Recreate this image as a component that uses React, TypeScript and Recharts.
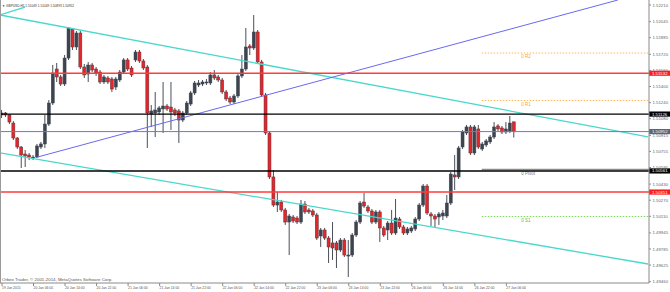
import React from 'react';
import { ComposedChart, Bar, XAxis, YAxis, ReferenceLine } from 'recharts';

// GBPUSD H1, one bar per hour from 19 Jan 22:00
const opens = [
  1.51117, 1.51137, 1.51117, 1.51037, 1.50888, 1.50799, 1.50729, 1.50719, 1.50690, 1.50699,
  1.50799, 1.50829, 1.51027, 1.51236, 1.51574, 1.51495, 1.51425, 1.51683, 1.51972, 1.51793,
  1.51932, 1.51594, 1.51524, 1.51614, 1.51574, 1.51544, 1.51445, 1.51485, 1.51475, 1.51395,
  1.51465, 1.51544, 1.51664, 1.51584, 1.51664, 1.51743, 1.51654, 1.51594, 1.51127, 1.51137,
  1.51147, 1.51177, 1.51206, 1.51196, 1.51167, 1.51157, 1.51067, 1.51137, 1.51226, 1.51336,
  1.51415, 1.51425, 1.51435, 1.51435, 1.51515, 1.51495, 1.51465, 1.51346, 1.51286, 1.51246,
  1.51306, 1.51505, 1.51574, 1.51803, 1.51783, 1.51942, 1.51644, 1.51316, 1.50938, 1.50501,
  1.50222, 1.50252, 1.50173, 1.50053, 1.50103, 1.50093, 1.50053, 1.50232, 1.50173, 1.50163,
  1.50123, 1.49914, 1.49974, 1.49894, 1.49845, 1.49845, 1.49775, 1.49874, 1.49715, 1.49725,
  1.49924, 1.50053, 1.50252, 1.50202, 1.50163, 1.50053, 1.50153, 1.49994, 1.49974, 1.50043,
  1.49944, 1.50083, 1.50004, 1.49944, 1.49964, 1.49984, 1.50083, 1.50222, 1.50411, 1.50133,
  1.50113, 1.50103, 1.50113, 1.50113, 1.50242, 1.50521, 1.50501, 1.50799, 1.50938, 1.50998,
  1.50739, 1.50978, 1.50779, 1.50819, 1.50849, 1.50898, 1.51008, 1.50988, 1.50948, 1.50958, 1.51049,
];
const highs = [
  1.51167, 1.51147, 1.51127, 1.51057, 1.50898, 1.50809, 1.50769, 1.50739, 1.50719, 1.50829,
  1.50849, 1.51117, 1.51266, 1.51614, 1.51634, 1.51515, 1.51713, 1.51992, 1.51982, 1.51952,
  1.51952, 1.51624, 1.51644, 1.51634, 1.51594, 1.51564, 1.51515, 1.51505, 1.51495, 1.51495,
  1.51564, 1.51683, 1.51683, 1.51604, 1.51763, 1.51763, 1.51674, 1.51614, 1.51216, 1.51346,
  1.51206, 1.51445, 1.51226, 1.51445, 1.51187, 1.51177, 1.51157, 1.51256, 1.51356, 1.51455,
  1.51465, 1.51465, 1.51475, 1.51544, 1.51564, 1.51515, 1.51485, 1.51365, 1.51306, 1.51326,
  1.51524, 1.51713, 1.51982, 1.51823, 1.52111, 1.51962, 1.51664, 1.51336, 1.50958, 1.50570,
  1.50352, 1.50272, 1.50193, 1.50133, 1.50123, 1.50113, 1.50272, 1.50262, 1.50193, 1.50183,
  1.50143, 1.49994, 1.49994, 1.49914, 1.50053, 1.49865, 1.49894, 1.49894, 1.49874, 1.49944,
  1.50073, 1.50262, 1.50342, 1.50222, 1.50183, 1.50173, 1.50173, 1.50014, 1.50063, 1.50173,
  1.50282, 1.50103, 1.50024, 1.50004, 1.50014, 1.50103, 1.50242, 1.50431, 1.50431, 1.50153,
  1.50133, 1.50153, 1.50173, 1.50322, 1.50550, 1.50719, 1.50809, 1.50968, 1.51018, 1.51018,
  1.51018, 1.51018, 1.50849, 1.50878, 1.50918, 1.51047, 1.51027, 1.51008, 1.51047, 1.51107, 1.51049,
];
const lows = [
  1.51087, 1.51097, 1.51027, 1.50868, 1.50779, 1.50590, 1.50600, 1.50670, 1.50670, 1.50690,
  1.50779, 1.50789, 1.51008, 1.51216, 1.51445, 1.51405, 1.51405, 1.51664, 1.51763, 1.51763,
  1.51574, 1.51485, 1.51445, 1.51544, 1.51505, 1.51425, 1.51425, 1.51425, 1.51346, 1.51365,
  1.51445, 1.51524, 1.51554, 1.51495, 1.51644, 1.51634, 1.51564, 1.50789, 1.50998, 1.50898,
  1.51117, 1.50938, 1.51157, 1.50968, 1.51107, 1.50839, 1.51047, 1.51117, 1.51206, 1.51316,
  1.51395, 1.51405, 1.51415, 1.51415, 1.51465, 1.51445, 1.51326, 1.51256, 1.51226, 1.51226,
  1.51286, 1.51485, 1.51554, 1.51713, 1.51763, 1.51624, 1.51296, 1.50918, 1.50481, 1.50202,
  1.50153, 1.50153, 1.50024, 1.49725, 1.50043, 1.50033, 1.50033, 1.50133, 1.50133, 1.50103,
  1.49874, 1.49805, 1.49874, 1.49646, 1.49676, 1.49596, 1.49755, 1.49705, 1.49507, 1.49705,
  1.49904, 1.50033, 1.50193, 1.50143, 1.50033, 1.50033, 1.49855, 1.49904, 1.49874, 1.49924,
  1.49924, 1.49984, 1.49924, 1.49924, 1.49944, 1.49964, 1.50063, 1.50202, 1.50123, 1.50014,
  1.49994, 1.50024, 1.50073, 1.50093, 1.50222, 1.50371, 1.50481, 1.50779, 1.50918, 1.50719,
  1.50719, 1.50779, 1.50759, 1.50799, 1.50829, 1.50878, 1.50958, 1.50928, 1.50928, 1.50938, 1.50893,
];
const closes = [
  1.51137, 1.51117, 1.51047, 1.50888, 1.50799, 1.50719, 1.50709, 1.50699, 1.50699, 1.50809,
  1.50829, 1.51027, 1.51236, 1.51534, 1.51495, 1.51425, 1.51683, 1.51982, 1.51793, 1.51932,
  1.51594, 1.51515, 1.51614, 1.51564, 1.51534, 1.51445, 1.51495, 1.51445, 1.51375, 1.51475,
  1.51544, 1.51664, 1.51574, 1.51515, 1.51743, 1.51654, 1.51584, 1.51137, 1.51157, 1.51167,
  1.51187, 1.51206, 1.51177, 1.51147, 1.51137, 1.51067, 1.51137, 1.51236, 1.51336, 1.51435,
  1.51435, 1.51445, 1.51445, 1.51515, 1.51485, 1.51465, 1.51346, 1.51276, 1.51246, 1.51306,
  1.51505, 1.51574, 1.51793, 1.51783, 1.51942, 1.51644, 1.51316, 1.50938, 1.50501, 1.50222,
  1.50252, 1.50173, 1.50053, 1.50113, 1.50063, 1.50053, 1.50232, 1.50153, 1.50153, 1.50123,
  1.49894, 1.49974, 1.49894, 1.49805, 1.49795, 1.49775, 1.49874, 1.49725, 1.49725, 1.49924,
  1.50053, 1.50242, 1.50212, 1.50163, 1.50053, 1.50153, 1.49994, 1.49924, 1.50043, 1.49944,
  1.50093, 1.50004, 1.49944, 1.49984, 1.49994, 1.50083, 1.50222, 1.50411, 1.50143, 1.50113,
  1.50083, 1.50133, 1.50143, 1.50242, 1.50530, 1.50501, 1.50789, 1.50948, 1.50998, 1.50739,
  1.50998, 1.50799, 1.50829, 1.50859, 1.50898, 1.50998, 1.50978, 1.50948, 1.50978, 1.51037, 1.50952,
];

const timeTicks = [0, 8, 16, 24, 32, 40, 48, 56, 64, 72, 80, 88, 96, 104, 112, 120, 128];
const timeLabels = [
  '19 Jan 2015', '20 Jan 06:00', '20 Jan 14:00', '20 Jan 22:00', '21 Jan 06:00', '21 Jan 14:00',
  '21 Jan 22:00', '22 Jan 06:00', '22 Jan 14:00', '22 Jan 22:00', '23 Jan 06:00', '23 Jan 14:00',
  '23 Jan 22:00', '26 Jan 06:00', '26 Jan 14:00', '26 Jan 22:00', '27 Jan 06:00',
];
const priceTicks = [
  1.5221, 1.52045, 1.51885, 1.5172, 1.5156, 1.514, 1.5124, 1.5108, 1.50915,
  1.50755, 1.50595, 1.5043, 1.5027, 1.5011, 1.49945, 1.49785, 1.49625, 1.4946,
];

// horizontal levels drawn across the whole chart
const levelValues = [1.51532, 1.51126, 1.50952, 1.50561, 1.50351];
const levelColors = ['#ff3b3b', '#000000', '#6f6ff7', '#000000', '#ff3b3b'];
const levelBoxes = ['#ff1a1a', '#000000', '#5c6674', '#000000', '#ff1a1a'];

// pivot levels (start at bar 121.75)
const pivotNames = ['R2', 'R1', 'Pivot', 'S1'];
const pivotValues = [1.51733, 1.51261, 1.50575, 1.50108];
const pivotStart = 121.75;

// trend lines: [bar, price] pairs
const upperCyan = [[-0.508, 1.52111], [163.96, 1.50899]];
const shortCyan = [[-0.508, 1.52111], [5.84, 1.5219]];
const lowerCyan = [[-0.508, 1.5074], [163.96, 1.49636]];
const blueRay = [[8.63, 1.50695], [156.3, 1.5226]];

const X_DOMAIN = [-0.508, 164.2];
const Y_DOMAIN = [1.49447, 1.5226];

const candles = opens.map((o, i) => ({
  i, o, h: highs[i], l: lows[i], c: closes[i], range: [lows[i], highs[i]],
}));

const Candle = (props: any) => {
  const { x, y, width, height, payload } = props;
  const top = Math.min(y, y + height);
  const span = Math.abs(height);
  const { o, h, l, c } = payload;
  const k = h === l ? 0 : span / (h - l);
  const py = (v: number) => top + (h - v) * k;
  const cx = x + width / 2;
  const up = c >= o;
  const bTop = py(Math.max(o, c));
  const bH = Math.max(1, py(Math.min(o, c)) - bTop);
  return (
    <g>
      <line x1={cx} x2={cx} y1={top} y2={top + span} stroke="#4a4f58" strokeWidth={1} />
      <rect x={x} y={bTop} width={width} height={bH}
        fill={up ? '#3d4450' : '#e3262c'} stroke={up ? '#3d4450' : '#5b3336'} strokeWidth={0.5} />
    </g>
  );
};

const XTick = ({ x, y, payload }: any) => (
  <text x={x} y={y + 3.4} fontSize={3.4} fill="#555" fontFamily="Liberation Sans, Arial">
    {timeLabels[timeTicks.indexOf(payload.value)]}
  </text>
);

const YTick = ({ x, y, payload }: any) => (
  <text x={x} y={y} dy="0.355em" fontSize={4.3} fill="#666" fontFamily="Liberation Sans, Arial">
    {payload.value.toFixed(5)}
  </text>
);

const priceBox = (val: number, bg: string) => (props: any) => {
  const vb = props.viewBox;
  const rx = vb.x + vb.width;
  return (
    <g>
      <rect x={rx} y={vb.y - 2.6} width={21} height={5.2} fill={bg} />
      <text x={rx + 3} y={vb.y} dy="0.355em" fontSize={4.3} fill="#fff" fontFamily="Liberation Sans, Arial">
        {val.toFixed(5)}
      </text>
    </g>
  );
};

const pivotColors = ['#f3a43c', '#f3a43c', '#7a7a7a', '#5cc040'];
const pivotStroke = ['#ffb85c', '#ffb85c', '#8c8c8c', '#7fd95f'];

const pivotLabel = (name: string, color: string) => (props: any) => {
  const vb = props.viewBox;
  return (
    <text x={vb.x + 39.5} y={vb.y + 5} fontSize={4.5} fill={color} fontFamily="Liberation Sans, Arial">
      {`0 ${name}`}
    </text>
  );
};

const seg = (pts: number[][]) => pts.map(([x, y]) => ({ x, y }));

export default function App() {
  return (
    <div style={{ position: 'absolute', left: 0, top: 0, width: 670, height: 292, background: '#fff' }}>
      <ComposedChart width={670} height={292} data={candles} margin={{ top: 0, right: 0, bottom: 0, left: 0 }}>
        <XAxis dataKey="i" type="number" domain={X_DOMAIN} allowDataOverflow ticks={timeTicks} interval={0}
          height={9} tickSize={3} tickMargin={0} stroke="#8a8a8a" tick={<XTick />} />
        <YAxis orientation="right" type="number" domain={Y_DOMAIN} allowDataOverflow ticks={priceTicks} interval={0}
          width={21} tickSize={2} tickMargin={1.5} stroke="#8a8a8a" tick={<YTick />} />

        <ReferenceLine segment={seg(upperCyan)} stroke="#48d8cc" strokeWidth={1.3} ifOverflow="hidden" />
        <ReferenceLine segment={seg(shortCyan)} stroke="#48d8cc" strokeWidth={1.3} ifOverflow="hidden" />
        <ReferenceLine segment={seg(lowerCyan)} stroke="#48d8cc" strokeWidth={1.3} ifOverflow="hidden" />
        <ReferenceLine segment={seg(blueRay)} stroke="#6a6af0" strokeWidth={1} ifOverflow="hidden" />

        {pivotValues.map((v, k) => (
          <ReferenceLine key={pivotNames[k]} segment={[{ x: pivotStart, y: v }, { x: X_DOMAIN[1], y: v }]}
            stroke={pivotStroke[k]} strokeWidth={k === 2 ? 1.4 : 1} strokeDasharray={k === 2 ? undefined : '1.5 1.5'}
            ifOverflow="visible" label={pivotLabel(pivotNames[k], pivotColors[k])} />
        ))}

        {levelValues.map((v, k) => (
          <ReferenceLine key={v} y={v} stroke={levelColors[k]} strokeWidth={k === 2 ? 1 : 1.4}
            label={priceBox(v, levelBoxes[k])} />
        ))}

        <Bar dataKey="range" barSize={3} shape={<Candle />} isAnimationActive={false} />
      </ComposedChart>
      <svg width={670} height={292} style={{ position: 'absolute', left: 0, top: 0, pointerEvents: 'none' }}>
        <line x1={0.5} y1={0} x2={0.5} y2={283} stroke="#9a9a9a" strokeWidth={1} />
        <text x={2} y={7} fontSize={3.2} fill="#333" fontFamily="Liberation Sans, Arial">
          ▼ GBPUSD,H1  1.51049 1.51049 1.50893 1.50952
        </text>
        <text x={2} y={280.5} fontSize={4.4} fill="#555" fontFamily="Liberation Sans, Arial">
          Orbex Trader, © 2001-2014, MetaQuotes Software Corp.
        </text>
      </svg>
    </div>
  );
}
